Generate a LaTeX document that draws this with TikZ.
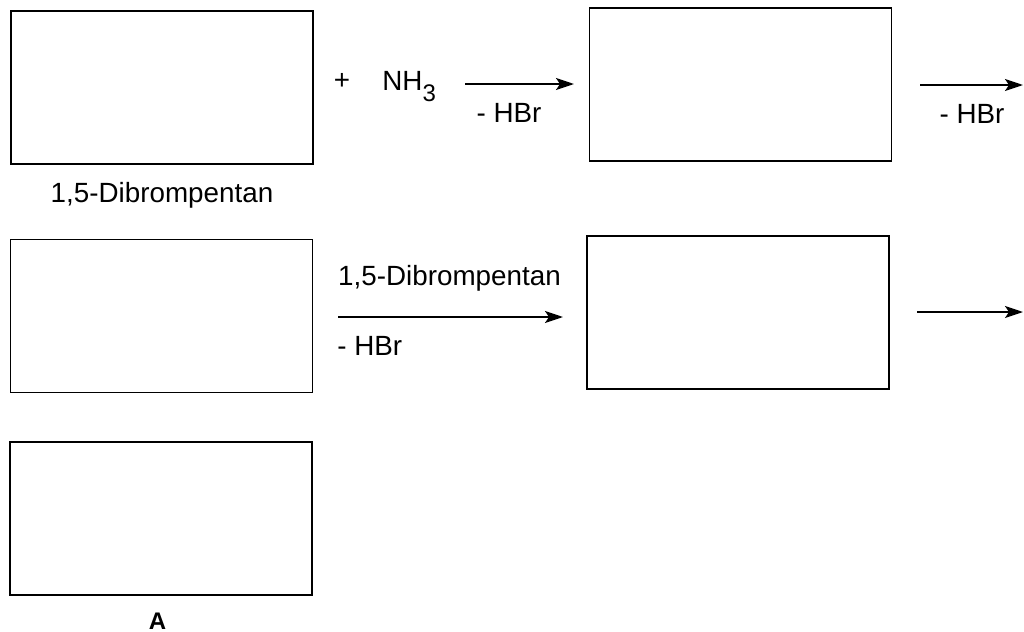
\documentclass[tikz,border=0pt]{standalone}
\usepackage{fontspec}
\setmainfont{Liberation Sans}
\usetikzlibrary{arrows.meta,positioning}
\tikzset{molbox/.style={draw,line width=.8pt,minimum width=151pt,minimum height=76.5pt,inner sep=0pt},
  rxn/.style={-{Stealth[length=9pt,width=6pt,inset=2pt]},line width=1pt}}

\begin{document}
\begin{tikzpicture}[x=.5pt,y=-.5pt,
  lbl/.style={font=\fontsize{13.9}{16}\selectfont,inner sep=0pt,anchor=base}]
\useasboundingbox (0,0) rectangle (1024,632);
% Reihe 1
\node[molbox] (dibrom) at (162,87.5) {};
\node[lbl] (dibromlbl) at (162,202) {1,5-Dibrompentan};
\node[lbl] (plus) at (342,89) {+};
\node[lbl,anchor=base west] (nh3) at (382,90) {NH\raisebox{-.75ex}{\fontsize{12}{13}\selectfont 3}};
\node[molbox] (zwisch1) at (740.5,84.5) {};
\coordinate (p1s) at (465,84); \coordinate (p1e) at (574,84);
\draw[rxn] (p1s)--(p1e);
\node[lbl] (hbr1) at (509,122) {- HBr};
\coordinate (p2s) at (920,85); \coordinate (p2e) at (1023,85);
\draw[rxn] (p2s)--(p2e);
\node[lbl] (hbr2) at (972,123) {- HBr};
% Reihe 2
\node[molbox] (zwisch2) at (161.5,316) {};
\node[molbox] (zwisch3) at (738,312.5) {};
\coordinate (p3s) at (338,317); \coordinate (p3e) at (563,317);
\draw[rxn] (p3s)--(p3e);
\node[lbl] (dibromlbl2) at (449.5,285) {1,5-Dibrompentan};
\node[lbl,anchor=base west] (hbr3) at (337,355) {- HBr};
\coordinate (p4s) at (917,312); \coordinate (p4e) at (1023,312);
\draw[rxn] (p4s)--(p4e);
% Reihe 3
\node[molbox] (prodA) at (161,518.5) {};
\node[lbl,font=\fontsize{12}{14}\selectfont\bfseries] (alabel) at (157.5,629) {A};
\end{tikzpicture}
\end{document}
